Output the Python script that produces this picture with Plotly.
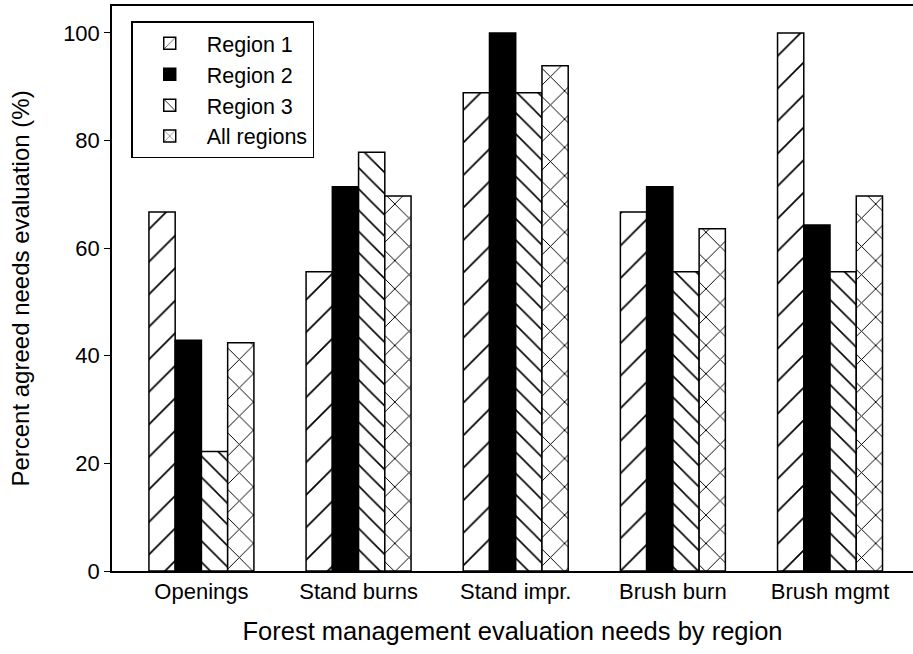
import plotly.graph_objects as go

categories = ["Openings", "Stand burns", "Stand impr.", "Brush burn", "Brush mgmt"]
region1 = [66.7, 55.6, 88.9, 66.7, 100.0]
region2 = [42.9, 71.4, 100.0, 71.4, 64.3]
region3 = [22.2, 77.8, 88.9, 55.6, 55.6]
all_regions = [42.4, 69.7, 93.9, 63.6, 69.7]
y_ticks = [0, 20, 40, 60, 80, 100]

series = [
    ("Region 1", region1, dict(color="white", pattern=dict(shape="/", size=23, solidity=0.075, fgcolor="black", fgopacity=1, bgcolor="white"))),
    ("Region 2", region2, dict(color="black")),
    ("Region 3", region3, dict(color="white", pattern=dict(shape="\\", size=15, solidity=0.105, fgcolor="black", fgopacity=1, bgcolor="white"))),
    ("All regions", all_regions, dict(color="white", pattern=dict(shape="x", size=20, solidity=0.095, fgcolor="black", fgopacity=1, bgcolor="white"))),
]

fig = go.Figure()
for name, vals, marker in series:
    marker = dict(marker)
    marker["line"] = dict(color="black", width=1.5)
    fig.add_trace(go.Bar(x=categories, y=vals, name=name, marker=marker))

font = "Liberation Sans, Arial, sans-serif"
fig.update_layout(
    width=913, height=654,
    margin=dict(l=112, r=0, t=6, b=83),
    plot_bgcolor="white", paper_bgcolor="white",
    barmode="group", bargap=0.332, bargroupgap=0,
    font=dict(family=font, color="black", size=22),
    legend=dict(x=0.024, y=0.973, xanchor="left", yanchor="top",
                bordercolor="black", borderwidth=1.5, bgcolor="white",
                font=dict(size=21.5), itemwidth=64),
    showlegend=True,
)
fig.update_xaxes(
    range=[-0.569, 4.528], showline=True, linecolor="black", linewidth=1.5,
    mirror=True, ticks="", showgrid=False, zeroline=False, automargin=False,
    tickfont=dict(size=22),
    title=dict(text="Forest management evaluation needs by region", font=dict(size=25.5), standoff=19),
)
fig.update_yaxes(
    range=[0, 105], tickvals=y_ticks, showline=True, linecolor="black", linewidth=1.5,
    mirror=False, ticks="outside", ticklen=6, tickwidth=1.2, tickcolor="black",
    showgrid=False, zeroline=False, automargin=False, tickfont=dict(size=22),
    title=dict(text="Percent agreed needs evaluation (%)", font=dict(size=24), standoff=27),
)
fig.write_html("out.html", config={"displayModeBar": False},
               post_script="document.body.style.margin='0';document.body.style.padding='0';")
